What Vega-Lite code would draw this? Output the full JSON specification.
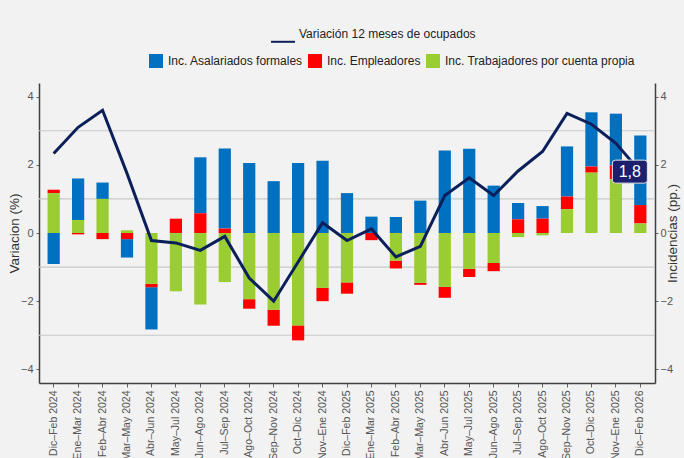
{
  "$schema": "https://vega.github.io/schema/vega-lite/v6.json",
  "width": 616,
  "height": 300,
  "autosize": {"type": "none"},
  "padding": {"left": 39, "top": 83, "right": 29, "bottom": 75},
  "background": "#f2f2f2",
  "config": {
    "view": {"stroke": null},
    "font": "Liberation Sans",
    "axis": {"labelFont": "Liberation Sans", "titleFont": "Liberation Sans", "labelColor": "#555555", "titleColor": "#333333", "titleFontWeight": "normal", "domainColor": "#404040", "domainWidth": 1.5, "tickColor": "#666666", "tickSize": 3},
    "legend": {"labelFont": "Liberation Sans", "labelFontSize": 12, "labelColor": "#222222", "padding": 0, "labelLimit": 400}
  },
  "datasets": {
    "barras": [
      {"periodo": "Dic–Feb 2024", "serie": "Inc. Asalariados formales", "orden": 3, "valor": -0.91},
      {"periodo": "Dic–Feb 2024", "serie": "Inc. Empleadores", "orden": 2, "valor": 0.10},
      {"periodo": "Dic–Feb 2024", "serie": "Inc. Trabajadores por cuenta propia", "orden": 1, "valor": 1.17},
      {"periodo": "Ene–Mar 2024", "serie": "Inc. Asalariados formales", "orden": 3, "valor": 1.22},
      {"periodo": "Ene–Mar 2024", "serie": "Inc. Empleadores", "orden": 2, "valor": -0.04},
      {"periodo": "Ene–Mar 2024", "serie": "Inc. Trabajadores por cuenta propia", "orden": 1, "valor": 0.38},
      {"periodo": "Feb–Abr 2024", "serie": "Inc. Asalariados formales", "orden": 3, "valor": 0.48},
      {"periodo": "Feb–Abr 2024", "serie": "Inc. Empleadores", "orden": 2, "valor": -0.18},
      {"periodo": "Feb–Abr 2024", "serie": "Inc. Trabajadores por cuenta propia", "orden": 1, "valor": 1.00},
      {"periodo": "Mar–May 2024", "serie": "Inc. Asalariados formales", "orden": 3, "valor": -0.54},
      {"periodo": "Mar–May 2024", "serie": "Inc. Empleadores", "orden": 2, "valor": -0.18},
      {"periodo": "Mar–May 2024", "serie": "Inc. Trabajadores por cuenta propia", "orden": 1, "valor": 0.08},
      {"periodo": "Abr–Jun 2024", "serie": "Inc. Asalariados formales", "orden": 3, "valor": -1.24},
      {"periodo": "Abr–Jun 2024", "serie": "Inc. Empleadores", "orden": 2, "valor": -0.10},
      {"periodo": "Abr–Jun 2024", "serie": "Inc. Trabajadores por cuenta propia", "orden": 1, "valor": -1.49},
      {"periodo": "May–Jul 2024", "serie": "Inc. Asalariados formales", "orden": 3, "valor": 0},
      {"periodo": "May–Jul 2024", "serie": "Inc. Empleadores", "orden": 2, "valor": 0.42},
      {"periodo": "May–Jul 2024", "serie": "Inc. Trabajadores por cuenta propia", "orden": 1, "valor": -1.71},
      {"periodo": "Jun–Ago 2024", "serie": "Inc. Asalariados formales", "orden": 3, "valor": 1.64},
      {"periodo": "Jun–Ago 2024", "serie": "Inc. Empleadores", "orden": 2, "valor": 0.58},
      {"periodo": "Jun–Ago 2024", "serie": "Inc. Trabajadores por cuenta propia", "orden": 1, "valor": -2.10},
      {"periodo": "Jul–Sep 2024", "serie": "Inc. Asalariados formales", "orden": 3, "valor": 2.35},
      {"periodo": "Jul–Sep 2024", "serie": "Inc. Empleadores", "orden": 2, "valor": 0.13},
      {"periodo": "Jul–Sep 2024", "serie": "Inc. Trabajadores por cuenta propia", "orden": 1, "valor": -1.44},
      {"periodo": "Ago–Oct 2024", "serie": "Inc. Asalariados formales", "orden": 3, "valor": 2.05},
      {"periodo": "Ago–Oct 2024", "serie": "Inc. Empleadores", "orden": 2, "valor": -0.28},
      {"periodo": "Ago–Oct 2024", "serie": "Inc. Trabajadores por cuenta propia", "orden": 1, "valor": -1.94},
      {"periodo": "Sep–Nov 2024", "serie": "Inc. Asalariados formales", "orden": 3, "valor": 1.52},
      {"periodo": "Sep–Nov 2024", "serie": "Inc. Empleadores", "orden": 2, "valor": -0.47},
      {"periodo": "Sep–Nov 2024", "serie": "Inc. Trabajadores por cuenta propia", "orden": 1, "valor": -2.25},
      {"periodo": "Oct–Dic 2024", "serie": "Inc. Asalariados formales", "orden": 3, "valor": 2.05},
      {"periodo": "Oct–Dic 2024", "serie": "Inc. Empleadores", "orden": 2, "valor": -0.44},
      {"periodo": "Oct–Dic 2024", "serie": "Inc. Trabajadores por cuenta propia", "orden": 1, "valor": -2.71},
      {"periodo": "Nov–Ene 2024", "serie": "Inc. Asalariados formales", "orden": 3, "valor": 2.12},
      {"periodo": "Nov–Ene 2024", "serie": "Inc. Empleadores", "orden": 2, "valor": -0.39},
      {"periodo": "Nov–Ene 2024", "serie": "Inc. Trabajadores por cuenta propia", "orden": 1, "valor": -1.61},
      {"periodo": "Dic–Feb 2025", "serie": "Inc. Asalariados formales", "orden": 3, "valor": 1.17},
      {"periodo": "Dic–Feb 2025", "serie": "Inc. Empleadores", "orden": 2, "valor": -0.33},
      {"periodo": "Dic–Feb 2025", "serie": "Inc. Trabajadores por cuenta propia", "orden": 1, "valor": -1.45},
      {"periodo": "Ene–Mar 2025", "serie": "Inc. Asalariados formales", "orden": 3, "valor": 0.48},
      {"periodo": "Ene–Mar 2025", "serie": "Inc. Empleadores", "orden": 2, "valor": -0.21},
      {"periodo": "Ene–Mar 2025", "serie": "Inc. Trabajadores por cuenta propia", "orden": 1, "valor": 0},
      {"periodo": "Feb–Abr 2025", "serie": "Inc. Asalariados formales", "orden": 3, "valor": 0.47},
      {"periodo": "Feb–Abr 2025", "serie": "Inc. Empleadores", "orden": 2, "valor": -0.23},
      {"periodo": "Feb–Abr 2025", "serie": "Inc. Trabajadores por cuenta propia", "orden": 1, "valor": -0.81},
      {"periodo": "Mar–May 2025", "serie": "Inc. Asalariados formales", "orden": 3, "valor": 0.95},
      {"periodo": "Mar–May 2025", "serie": "Inc. Empleadores", "orden": 2, "valor": -0.06},
      {"periodo": "Mar–May 2025", "serie": "Inc. Trabajadores por cuenta propia", "orden": 1, "valor": -1.46},
      {"periodo": "Abr–Jun 2025", "serie": "Inc. Asalariados formales", "orden": 3, "valor": 2.42},
      {"periodo": "Abr–Jun 2025", "serie": "Inc. Empleadores", "orden": 2, "valor": -0.32},
      {"periodo": "Abr–Jun 2025", "serie": "Inc. Trabajadores por cuenta propia", "orden": 1, "valor": -1.58},
      {"periodo": "May–Jul 2025", "serie": "Inc. Asalariados formales", "orden": 3, "valor": 2.47},
      {"periodo": "May–Jul 2025", "serie": "Inc. Empleadores", "orden": 2, "valor": -0.24},
      {"periodo": "May–Jul 2025", "serie": "Inc. Trabajadores por cuenta propia", "orden": 1, "valor": -1.05},
      {"periodo": "Jun–Ago 2025", "serie": "Inc. Asalariados formales", "orden": 3, "valor": 1.39},
      {"periodo": "Jun–Ago 2025", "serie": "Inc. Empleadores", "orden": 2, "valor": -0.24},
      {"periodo": "Jun–Ago 2025", "serie": "Inc. Trabajadores por cuenta propia", "orden": 1, "valor": -0.88},
      {"periodo": "Jul–Sep 2025", "serie": "Inc. Asalariados formales", "orden": 3, "valor": 0.48},
      {"periodo": "Jul–Sep 2025", "serie": "Inc. Empleadores", "orden": 2, "valor": 0.40},
      {"periodo": "Jul–Sep 2025", "serie": "Inc. Trabajadores por cuenta propia", "orden": 1, "valor": -0.12},
      {"periodo": "Ago–Oct 2025", "serie": "Inc. Asalariados formales", "orden": 3, "valor": 0.37},
      {"periodo": "Ago–Oct 2025", "serie": "Inc. Empleadores", "orden": 2, "valor": 0.42},
      {"periodo": "Ago–Oct 2025", "serie": "Inc. Trabajadores por cuenta propia", "orden": 1, "valor": -0.07},
      {"periodo": "Sep–Nov 2025", "serie": "Inc. Asalariados formales", "orden": 3, "valor": 1.47},
      {"periodo": "Sep–Nov 2025", "serie": "Inc. Empleadores", "orden": 2, "valor": 0.37},
      {"periodo": "Sep–Nov 2025", "serie": "Inc. Trabajadores por cuenta propia", "orden": 1, "valor": 0.70},
      {"periodo": "Oct–Dic 2025", "serie": "Inc. Asalariados formales", "orden": 3, "valor": 1.59},
      {"periodo": "Oct–Dic 2025", "serie": "Inc. Empleadores", "orden": 2, "valor": 0.18},
      {"periodo": "Oct–Dic 2025", "serie": "Inc. Trabajadores por cuenta propia", "orden": 1, "valor": 1.77},
      {"periodo": "Nov–Ene 2025", "serie": "Inc. Asalariados formales", "orden": 3, "valor": 1.52},
      {"periodo": "Nov–Ene 2025", "serie": "Inc. Empleadores", "orden": 2, "valor": 0.40},
      {"periodo": "Nov–Ene 2025", "serie": "Inc. Trabajadores por cuenta propia", "orden": 1, "valor": 1.58},
      {"periodo": "Dic–Feb 2026", "serie": "Inc. Asalariados formales", "orden": 3, "valor": 2.04},
      {"periodo": "Dic–Feb 2026", "serie": "Inc. Empleadores", "orden": 2, "valor": 0.54},
      {"periodo": "Dic–Feb 2026", "serie": "Inc. Trabajadores por cuenta propia", "orden": 1, "valor": 0.28}
    ],
    "linea": [
      {"periodo": "Dic–Feb 2024", "variacion": 2.33},
      {"periodo": "Ene–Mar 2024", "variacion": 3.10},
      {"periodo": "Feb–Abr 2024", "variacion": 3.60},
      {"periodo": "Mar–May 2024", "variacion": 1.75},
      {"periodo": "Abr–Jun 2024", "variacion": -0.22},
      {"periodo": "May–Jul 2024", "variacion": -0.29},
      {"periodo": "Jun–Ago 2024", "variacion": -0.51},
      {"periodo": "Jul–Sep 2024", "variacion": -0.10},
      {"periodo": "Ago–Oct 2024", "variacion": -1.32},
      {"periodo": "Sep–Nov 2024", "variacion": -2.00},
      {"periodo": "Oct–Dic 2024", "variacion": -0.85},
      {"periodo": "Nov–Ene 2024", "variacion": 0.30},
      {"periodo": "Dic–Feb 2025", "variacion": -0.22},
      {"periodo": "Ene–Mar 2025", "variacion": 0.12},
      {"periodo": "Feb–Abr 2025", "variacion": -0.70},
      {"periodo": "Mar–May 2025", "variacion": -0.39},
      {"periodo": "Abr–Jun 2025", "variacion": 1.10},
      {"periodo": "May–Jul 2025", "variacion": 1.62},
      {"periodo": "Jun–Ago 2025", "variacion": 1.10},
      {"periodo": "Jul–Sep 2025", "variacion": 1.82},
      {"periodo": "Ago–Oct 2025", "variacion": 2.39},
      {"periodo": "Sep–Nov 2025", "variacion": 3.51},
      {"periodo": "Oct–Dic 2025", "variacion": 3.19},
      {"periodo": "Nov–Ene 2025", "variacion": 2.63},
      {"periodo": "Dic–Feb 2026", "variacion": 1.80}
    ],
    "rejilla": [
      {"nivel": -3},
      {"nivel": -1},
      {"nivel": 1},
      {"nivel": 3}
    ]
  },
  "encoding": {
    "x": {
      "field": "periodo",
      "type": "ordinal",
      "sort": ["Dic–Feb 2024", "Ene–Mar 2024", "Feb–Abr 2024", "Mar–May 2024", "Abr–Jun 2024", "May–Jul 2024", "Jun–Ago 2024", "Jul–Sep 2024", "Ago–Oct 2024", "Sep–Nov 2024", "Oct–Dic 2024", "Nov–Ene 2024", "Dic–Feb 2025", "Ene–Mar 2025", "Feb–Abr 2025", "Mar–May 2025", "Abr–Jun 2025", "May–Jul 2025", "Jun–Ago 2025", "Jul–Sep 2025", "Ago–Oct 2025", "Sep–Nov 2025", "Oct–Dic 2025", "Nov–Ene 2025", "Dic–Feb 2026"],
      "scale": {"type": "band", "paddingInner": 0.5, "paddingOuter": 0.35},
      "axis": {"title": null, "labelAngle": -90, "labelFontSize": 10.5, "labelPadding": 3, "tickSize": 4, "grid": false}
    }
  },
  "layer": [
    {
      "layer": [
        {
          "data": {"name": "rejilla"},
          "mark": {"type": "rule", "color": "#c8c8c8", "strokeWidth": 1.2},
          "encoding": {
            "x": null,
            "y": {
              "field": "nivel",
              "type": "quantitative",
              "axis": {"orient": "right", "title": "Incidencias (pp.)", "titleAngle": 270, "titleFontSize": 13.5, "titlePadding": 7, "values": [-4, -2, 0, 2, 4], "grid": false, "labelFontSize": 11, "labelPadding": 2}
            }
          }
        },
        {
          "data": {"name": "barras"},
          "mark": {"type": "bar", "opacity": 1},
          "encoding": {
            "y": {
              "field": "valor",
              "type": "quantitative",
              "stack": "zero",
              "axis": {"orient": "right", "title": "Incidencias (pp.)", "titleAngle": 270, "titleFontSize": 13.5, "titlePadding": 7, "values": [-4, -2, 0, 2, 4], "grid": false, "labelFontSize": 11, "labelPadding": 2}
            },
            "color": {
              "field": "serie",
              "type": "nominal",
              "scale": {"domain": ["Inc. Asalariados formales", "Inc. Empleadores", "Inc. Trabajadores por cuenta propia"], "range": ["#0070c0", "#ff0000", "#9acd32"]},
              "legend": {"title": null, "orient": "none", "direction": "horizontal", "columns": 3, "legendX": 110, "legendY": -29, "symbolType": "square", "symbolSize": 196, "symbolStrokeWidth": 0, "labelOffset": 5, "columnPadding": 5}
            },
            "order": {"field": "orden", "type": "quantitative"}
          }
        }
      ],
      "encoding": {
        "y": {"scale": {"domain": [-4.4, 4.4], "nice": false, "zero": false}}
      }
    },
    {
      "layer": [
        {
          "data": {"name": "linea"},
          "mark": {"type": "line", "strokeWidth": 3},
          "encoding": {
            "y": {
              "field": "variacion",
              "type": "quantitative",
              "axis": {
                "orient": "left",
                "title": "Variacion (%)",
                "titleFontSize": 13.5,
                "titlePadding": -1,
                "values": [-4, -2, 0, 2, 4],
                "labelFontSize": 11,
                "labelPadding": 3,
                "grid": false
              }
            },
            "stroke": {
              "datum": "Variación 12 meses de ocupados",
              "type": "nominal",
              "scale": {"range": ["#0b1f5a"]},
              "legend": {"title": null, "orient": "none", "legendX": 231, "legendY": -62, "symbolType": "M-1,0.65L1,0.65", "symbolSize": 576, "symbolStrokeWidth": 2, "labelOffset": 3}
            }
          }
        },
        {
          "data": {"name": "linea"},
          "transform": [{"filter": "datum.periodo === 'Dic–Feb 2026'"}],
          "mark": {"type": "point", "filled": true, "opacity": 1, "fill": "#1c1f6e", "stroke": "#e6e6e6", "strokeWidth": 1, "size": 529, "shape": "M-2.17,-1H0.35Q0.61,-1 0.61,-0.74V0.74Q0.61,1 0.35,1H-2.17Q-2.43,1 -2.43,0.74V-0.74Q-2.43,-1 -2.17,-1Z"},
          "encoding": {
            "y": {"field": "variacion", "type": "quantitative"}
          }
        },
        {
          "data": {"name": "linea"},
          "transform": [
            {"filter": "datum.periodo === 'Dic–Feb 2026'"},
            {"calculate": "replace(format(datum.variacion, '.1f'), '.', ',')", "as": "etiqueta"}
          ],
          "mark": {"type": "text", "color": "#ffffff", "fontSize": 16, "dx": -10.5, "dy": 0.5, "align": "center", "baseline": "middle"},
          "encoding": {
            "y": {"field": "variacion", "type": "quantitative"},
            "text": {"field": "etiqueta"}
          }
        }
      ],
      "encoding": {
        "y": {"scale": {"domain": [-4.4, 4.4], "nice": false, "zero": false}}
      }
    }
  ],
  "resolve": {"scale": {"y": "independent"}}
}
